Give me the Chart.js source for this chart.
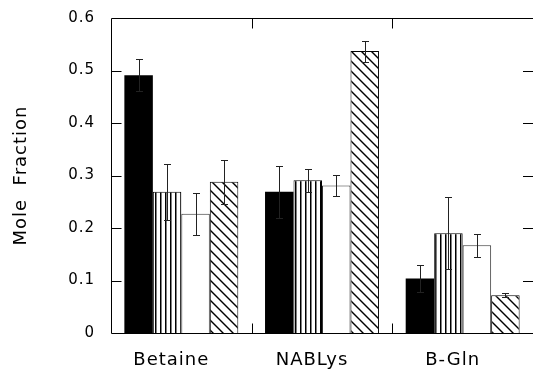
<!DOCTYPE html>
<html><head><meta charset="utf-8">
<script src="https://cdn.jsdelivr.net/npm/chart.js@4/dist/chart.umd.min.js"></script>
<style>html,body{margin:0;padding:0;background:#fff;}canvas{display:block;}</style>
</head><body>
<canvas id="c" width="533" height="371"></canvas>
<script>
const categories = ['Betaine', 'NABLys', 'B-Gln'];
const seriesBlack   = [0.491, 0.269, 0.104];
const seriesVStripe = [0.269, 0.291, 0.190];
const seriesWhite   = [0.227, 0.281, 0.167];
const seriesDiag    = [0.288, 0.537, 0.072];
const errBlack   = [0.030, 0.050, 0.026];
const errVStripe = [0.053, 0.022, 0.069];
const errWhite   = [0.040, 0.020, 0.022];
const errDiag    = [0.042, 0.020, 0.004];
const yTickLabels = ['0', '0.1', '0.2', '0.3', '0.4', '0.5', '0.6'];
const yTitle = 'Mole  Fraction';

const canvas = document.getElementById('c');
const ctx = canvas.getContext('2d');

function vStripePattern() {
  const c = document.createElement('canvas'); c.width = 5; c.height = 5;
  const x = c.getContext('2d');
  x.fillStyle = '#fff'; x.fillRect(0, 0, 5, 5);
  x.fillStyle = '#000'; x.fillRect(0, 0, 1.5, 5);
  return ctx.createPattern(c, 'repeat');
}
function diagPattern() {
  const s = 10;
  const c = document.createElement('canvas'); c.width = s; c.height = s;
  const x = c.getContext('2d');
  x.fillStyle = '#fff'; x.fillRect(0, 0, s, s);
  x.strokeStyle = '#000'; x.lineWidth = 1.4;
  for (const k of [-1, 0, 1]) {
    x.beginPath(); x.moveTo(-2 + k * s, -2); x.lineTo(s + 2 + k * s, s + 2); x.stroke();
  }
  return ctx.createPattern(c, 'repeat');
}

const errs = [errBlack, errVStripe, errWhite, errDiag];

const errorBarPlugin = {
  id: 'errorBars',
  afterDatasetsDraw(chart) {
    const c = chart.ctx, ys = chart.scales.y;
    c.save();
    c.strokeStyle = '#222'; c.lineWidth = 1;
    errs.forEach((arr, di) => {
      const meta = chart.getDatasetMeta(di);
      meta.data.forEach((el, i) => {
        const v = chart.data.datasets[di].data[i];
        const x = Math.round(el.x) + 0.5;
        const yt = Math.round(ys.getPixelForValue(v + arr[i])) + 0.5;
        const yb = Math.round(ys.getPixelForValue(v - arr[i])) + 0.5;
        c.beginPath();
        c.moveTo(x, yt); c.lineTo(x, yb);
        c.moveTo(x - 3.5, yt); c.lineTo(x + 3.5, yt);
        c.moveTo(x - 3.5, yb); c.lineTo(x + 3.5, yb);
        c.stroke();
      });
    });
    c.restore();
  }
};

const framePlugin = {
  id: 'frame',
  beforeDraw(chart) {
    chart.ctx.letterSpacing = '1px';
  },
  afterDraw(chart) {
    const c = chart.ctx, a = chart.chartArea, ys = chart.scales.y, xs = chart.scales.x;
    c.save();
    c.strokeStyle = '#000'; c.lineWidth = 1;
    const L = Math.round(a.left) + 0.5;
    const T = Math.round(a.top) + 0.5, B = Math.round(a.bottom) + 0.5;
    c.beginPath();
    c.moveTo(L, B); c.lineTo(L, T); c.lineTo(a.right, T);
    c.moveTo(L, B); c.lineTo(a.right, B);
    ys.ticks.forEach((t, i) => {
      const y = Math.round(ys.getPixelForTick(i)) + 0.5;
      if (t.value > 0 && t.value < 0.6) {
        c.moveTo(L, y); c.lineTo(L + 10, y);
        c.moveTo(a.right - 10, y); c.lineTo(a.right, y);
      }
    });
    const n = xs.ticks.length;
    const w = (a.right - a.left) / n;
    for (let i = 1; i < n; i++) {
      const x = Math.round(a.left + w * i) + 0.5;
      c.moveTo(x, T); c.lineTo(x, T + 10);
      c.moveTo(x, B); c.lineTo(x, B - 10);
    }
    c.stroke();
    c.restore();
  }
};

Chart.defaults.font.family = '"DejaVu Sans", sans-serif';
Chart.defaults.color = '#000';

new Chart(ctx, {
  type: 'bar',
  data: {
    labels: categories,
    datasets: [
      { data: seriesBlack, backgroundColor: '#000', borderWidth: 0 },
      { data: seriesVStripe, backgroundColor: vStripePattern(), borderColor: '#000', borderWidth: 1 },
      { data: seriesWhite, backgroundColor: '#fff', borderColor: '#333', borderWidth: 1 },
      { data: seriesDiag, backgroundColor: diagPattern(), borderColor: '#000', borderWidth: 1 }
    ]
  },
  options: {
    responsive: false,
    animation: false,
    devicePixelRatio: 1,
    layout: { padding: { top: 18, right: 0, bottom: 0, left: 0 } },
    datasets: { bar: { categoryPercentage: 0.81, barPercentage: 1.0 } },
    plugins: { legend: { display: false }, tooltip: { enabled: false } },
    scales: {
      x: {
        grid: { display: false, drawTicks: false },
        border: { display: false },
        ticks: { font: { size: 18 }, padding: 17, labelOffset: -10, maxRotation: 0 },
        afterFit(s) { s.height = 38; s.paddingLeft = 0; s.paddingRight = 0; }
      },
      y: {
        min: 0, max: 0.6,
        grid: { display: false, drawTicks: false },
        border: { display: false },
        ticks: { stepSize: 0.1, font: { size: 15 }, padding: 16,
                 callback: (v, i) => yTickLabels[i] },
        title: { display: true, text: yTitle, font: { size: 18 }, padding: { top: 11, bottom: 0 } },
        afterFit(s) { s.width = 111; s.paddingTop = 0; s.paddingBottom = 0; }
      }
    }
  },
  plugins: [framePlugin, errorBarPlugin]
});
</script>
</body></html>
